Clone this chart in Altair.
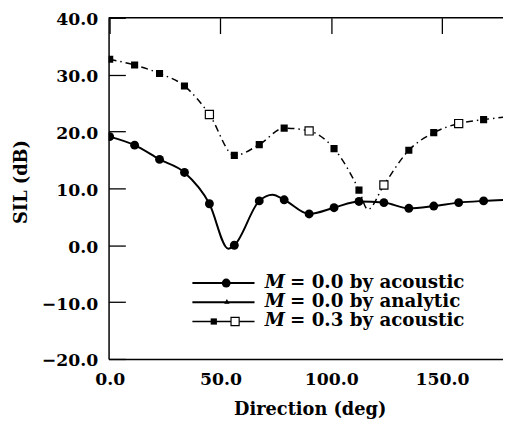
import altair as alt
import pandas as pd

# ---- data ----
angles = [0, 11.25, 22.5, 33.75, 45, 56.25, 67.5, 78.75, 90, 101.25,
          112.5, 123.75, 135, 146.25, 157.5, 168.75, 180]
sil_m0_acoustic = [19.1, 17.6, 15.1, 12.8, 7.3, 0.0, 7.8, 8.0, 5.5, 6.6,
                   7.7, 7.5, 6.5, 6.9, 7.5, 7.8, 8.0]
sil_m3_acoustic = [32.7, 31.7, 30.2, 28.0, 23.0, 15.8, 17.7, 20.6, 20.1, 17.0,
                   9.7, 10.6, 16.7, 19.8, 21.4, 22.1, 22.6]
m3_hollow = [0, 0, 0, 0, 1, 0, 0, 0, 1, 0, 0, 1, 0, 0, 1, 0, 0]

analytic_deg = [0, 11.25, 22.5, 33.75, 45, 53.5, 56.25, 67.5, 73.5, 78.75, 90,
                101.25, 112.5, 123.75, 135, 146.25, 157.5, 168.75, 180]
analytic_sil = [19.1, 17.6, 15.1, 12.8, 7.3, -0.6, 0.0, 7.8, 8.9, 8.0, 5.5,
                6.6, 7.7, 7.5, 6.5, 6.9, 7.5, 7.8, 8.0]

m3_line_deg = [0, 11.25, 22.5, 33.75, 45, 56.25, 67.5, 78.75, 90, 101.25,
               112.5, 116.5, 123.75, 135, 146.25, 157.5, 168.75, 180]
m3_line_sil = [32.7, 31.7, 30.2, 28.0, 23.0, 15.8, 17.7, 20.6, 20.1, 17.0,
               9.7, 6.3, 10.6, 16.7, 19.8, 21.4, 22.1, 22.6]

x_label_values = [0, 50, 100, 150]
y_label_values = [-20, -10, 0, 10, 20, 30, 40]

legend_texts = ["= 0.0 by acoustic", "= 0.0 by analytic", "= 0.3 by acoustic"]

# ---- styling ----
FONT = "DejaVu Serif"
W, H = 400, 346
X_MIN, X_MAX = -0.5, 177.5
Y_MIN, Y_MAX = -20, 40
xs = alt.Scale(domain=[X_MIN, X_MAX], nice=False, zero=False)
ys = alt.Scale(domain=[Y_MIN, Y_MAX], nice=False, zero=False)

# inward ticks are drawn as short dashed grid lines starting at each axis
x_axis = alt.Axis(values=x_label_values, format=".1f", title="Direction (deg)",
                  ticks=False, labelPadding=12, labelFlush=False, labelOverlap=False,
                  titleX=204, titleY=56, titleBaseline="alphabetic",
                  grid=True, gridColor="black", gridWidth=1.3, gridOpacity=1,
                  gridDash=[16, 2000], gridCap="butt")
y_axis = alt.Axis(values=y_label_values, format=".1f", title="SIL (dB)",
                  ticks=False, labelPadding=11, labelOffset=2, labelOverlap=False,
                  titleX=-88, titleY=166, titleAngle=-90, titleBaseline="middle",
                  titleAlign="center",
                  grid=True, gridColor="black", gridWidth=1.3, gridOpacity=1,
                  gridDash=[17, 2000], gridCap="butt")

X = alt.X("deg:Q", scale=xs, axis=x_axis)
Y = alt.Y("sil:Q", scale=ys, axis=y_axis)

df0 = pd.DataFrame({"deg": angles, "sil": sil_m0_acoustic})
df3 = pd.DataFrame({"deg": angles, "sil": sil_m3_acoustic, "hollow": m3_hollow})
dfa = pd.DataFrame({"deg": analytic_deg, "sil": analytic_sil})
dfl3 = pd.DataFrame({"deg": m3_line_deg, "sil": m3_line_sil})
dfone = pd.DataFrame({"k": [0]})

analytic_line = alt.Chart(dfa).mark_line(
    color="black", strokeWidth=2, interpolate="monotone", clip=True
).encode(x=X, y=Y)

m0_points = alt.Chart(df0).mark_point(
    shape="circle", filled=True, color="black", size=81, opacity=1, clip=True
).encode(x=X, y=Y)

m3_line = alt.Chart(dfl3).mark_line(
    color="black", strokeWidth=1.5, strokeDash=[7, 4, 1.5, 4],
    interpolate="monotone", clip=True
).encode(x=X, y=Y)

m3_filled = alt.Chart(df3).transform_filter("datum.hollow == 0").mark_point(
    shape="square", filled=True, color="black", size=52, opacity=1, clip=True
).encode(x=X, y=Y)

m3_open = alt.Chart(df3).transform_filter("datum.hollow == 1").mark_point(
    shape="square", filled=True, fill="white", stroke="black", strokeWidth=1.2,
    size=68, opacity=1, clip=True
).encode(x=X, y=Y)

top_frame = alt.Chart(dfone).mark_rule(color="black", strokeWidth=1.5).encode(
    x=alt.value(0), x2=alt.value(W), y=alt.value(0)
)

# ---- hand-made legend ----
row_y = [269, 288.5, 308]
legend_layers = []
for i, txt in enumerate(legend_texts):
    d = pd.DataFrame({"label": [txt]})
    base = alt.Chart(d)
    legend_layers.append(base.mark_rule(color="black", strokeWidth=2 if i < 2 else 1.6).encode(
        x=alt.value(85), x2=alt.value(148), y=alt.value(row_y[i])))
    if i == 0:
        legend_layers.append(base.mark_point(shape="circle", filled=True, color="black",
                                             size=81, opacity=1).encode(
            x=alt.value(119.3), y=alt.value(row_y[i])))
    elif i == 1:
        legend_layers.append(base.mark_point(shape="triangle-up", filled=True, color="black",
                                             size=30, opacity=1).encode(
            x=alt.value(120), y=alt.value(row_y[i] - 1)))
    else:
        legend_layers.append(base.mark_point(shape="square", filled=True, color="black",
                                             size=40, opacity=1).encode(
            x=alt.value(106.7), y=alt.value(row_y[i])))
        legend_layers.append(base.mark_point(shape="square", filled=True, fill="white",
                                             stroke="black", strokeWidth=1.2,
                                             size=68, opacity=1).encode(
            x=alt.value(128.3), y=alt.value(row_y[i])))
    legend_layers.append(base.mark_text(text="M", align="left", baseline="middle",
                                        font=FONT, fontSize=18.5, fontStyle="italic",
                                        fontWeight="bold", color="black").encode(
        x=alt.value(158.3), y=alt.value(row_y[i] - 1)))
    legend_layers.append(base.mark_text(align="left", baseline="middle",
                                        font=FONT, fontSize=18.5,
                                        fontWeight="bold", color="black").encode(
        x=alt.value(184), y=alt.value(row_y[i] - 1), text="label:N"))

chart = alt.layer(
    analytic_line, m3_line, m0_points, m3_filled, m3_open,
    top_frame, *legend_layers
).properties(
    width=W, height=H,
    autosize=alt.AutoSizeParams(type="none"),
    padding={"left": 102, "top": 7, "right": 0, "bottom": 63},
).configure_view(stroke=None).configure_axis(
    domainColor="black", domainWidth=1.5,
    labelFont=FONT, labelFontSize=17.5, labelFontWeight="bold", labelColor="black",
    titleFont=FONT, titleFontSize=18, titleFontWeight="bold", titleColor="black",
)

chart.save("out.html", embed_options={"renderer": "svg", "actions": False})
